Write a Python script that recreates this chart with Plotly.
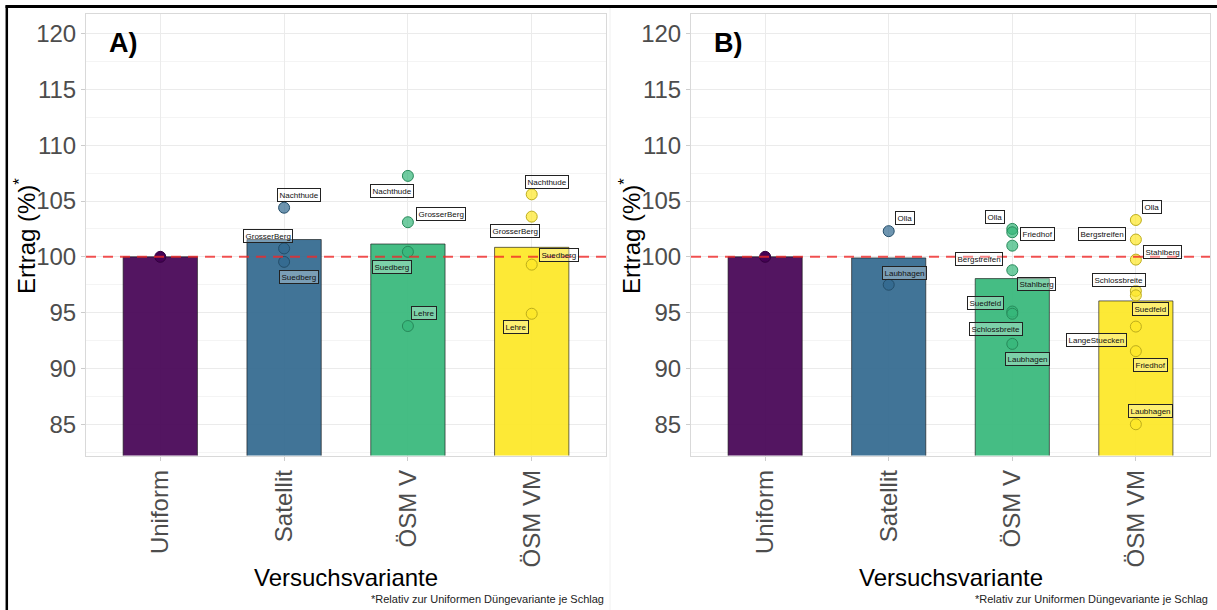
import plotly.graph_objects as go

# ---------------- data ----------------
categories = ["Uniform", "Satellit", "ÖSM V", "ÖSM VM"]
bar_colors = ["#440154", "#31688E", "#35B779", "#FDE725"]

bars_A = [100.0, 101.55, 101.15, 100.85]
bars_B = [100.0, 99.9, 98.05, 96.05]

# points per panel: category, field name, value
pts_A_cat = ["Uniform", "Satellit", "Satellit", "Satellit",
             "ÖSM V", "ÖSM V", "ÖSM V", "ÖSM V",
             "ÖSM VM", "ÖSM VM", "ÖSM VM", "ÖSM VM"]
pts_A_name = ["", "Nachthude", "GrosserBerg", "Suedberg",
              "Nachthude", "GrosserBerg", "Suedberg", "Lehre",
              "Nachthude", "GrosserBerg", "Suedberg", "Lehre"]
pts_A_val = [100.0, 104.4, 100.75, 99.55,
             107.25, 103.1, 100.45, 93.8,
             105.6, 103.6, 99.3, 94.9]

pts_B_cat = ["Uniform", "Satellit", "Satellit",
             "ÖSM V", "ÖSM V", "ÖSM V", "ÖSM V", "ÖSM V", "ÖSM V", "ÖSM V",
             "ÖSM VM", "ÖSM VM", "ÖSM VM", "ÖSM VM", "ÖSM VM", "ÖSM VM", "ÖSM VM", "ÖSM VM"]
pts_B_name = ["", "Olla", "Laubhagen",
              "Olla", "Friedhof", "Bergstreifen", "Stahlberg", "Suedfeld", "Schlossbreite", "Laubhagen",
              "Olla", "Bergstreifen", "Stahlberg", "Schlossbreite", "Suedfeld", "LangeStuecken", "Friedhof", "Laubhagen"]
pts_B_val = [100.0, 102.3, 97.5,
             102.5, 102.2, 101.0, 98.8, 95.1, 94.9, 92.2,
             103.3, 101.55, 99.75, 96.95, 96.55, 93.75, 91.55, 85.0]

# label offsets in pixels (dx right, dy down) -- styling only
off_A = [(0, 0), (15, -13), (-16, -12), (15, 15),
         (-16, 15), (33, -8), (-16, 15), (16, -13),
         (15, -12), (-17, 14), (27, -10), (-16, 13)]
off_B = [(0, 0), (16, -13), (16, -12),
         (-17, -12), (25, 2), (-33, 13), (24, 14), (-27, -9), (-16, 15), (15, 15),
         (16, -13), (-34, -6), (27, -8), (-17, -11), (15, 14), (-39, 13), (15, 14), (15, -13)]

panel_tags = ["A)", "B)"]
y_title = "Ertrag (%)<sup>*</sup>"
x_title = "Versuchsvariante"
footnote = "*Relativ zur Uniformen Düngevariante je Schlag"

# ---------------- layout helpers ----------------
W, H = 1217, 610
def px(x):
    return x / W
def py(y):
    return 1 - y / H

def hex_rgb(h):
    h = h.lstrip("#")
    return tuple(int(h[i:i + 2], 16) for i in (0, 2, 4))

def rgba(h, a):
    r, g, b = hex_rgb(h)
    return f"rgba({r},{g},{b},{a})"

def darker(h, f=0.7):
    r, g, b = hex_rgb(h)
    return f"rgb({int(r*f)},{int(g*f)},{int(b*f)})"

color_of = dict(zip(categories, bar_colors))

panels = [
    dict(bars=bars_A, cat=pts_A_cat, name=pts_A_name, val=pts_A_val, off=off_A,
         xa="x", ya="y", x0=86, x1=606),
    dict(bars=bars_B, cat=pts_B_cat, name=pts_B_name, val=pts_B_val, off=off_B,
         xa="x2", ya="y2", x0=691, x1=1210),
]
TOP, BOT = 13.5, 455.5
YR = [82.2, 121.8]

fig = go.Figure()
annotations = []
shapes = []
FONT = "Liberation Sans, Arial"

for i, p in enumerate(panels):
    fig.add_trace(go.Bar(
        x=categories, y=p["bars"], xaxis=p["xa"], yaxis=p["ya"], width=0.6,
        marker=dict(color=[rgba(c, 0.92) for c in bar_colors],
                    line=dict(color="rgba(20,20,20,0.8)", width=0.8)),
        showlegend=False, hoverinfo="skip"))
    fig.add_trace(go.Scatter(
        x=p["cat"], y=p["val"], xaxis=p["xa"], yaxis=p["ya"], mode="markers",
        marker=dict(size=11,
                    color=[color_of[c] if c == "Uniform" else rgba(color_of[c], 0.7) for c in p["cat"]],
                    line=dict(color=[darker(color_of[c], 0.75) for c in p["cat"]], width=1)),
        showlegend=False, hoverinfo="skip"))
    # reference line at 100
    shapes.append(dict(type="line", xref=f"{p['xa']} domain", yref=p["ya"],
                       x0=0, x1=1, y0=100, y1=100, layer="above",
                       line=dict(color="rgba(240,40,40,0.8)", width=2, dash="10px,7px")))
    # labels
    for c, n, v, (dx, dy) in zip(p["cat"], p["name"], p["val"], p["off"]):
        if not n:
            continue
        annotations.append(dict(
            x=c, y=v, xref=p["xa"], yref=p["ya"], text=n, showarrow=False,
            xshift=dx, yshift=-dy,
            font=dict(family=FONT, size=8, color="#111"),
            bgcolor="rgba(255,255,255,0.3)", bordercolor="#222", borderwidth=1, borderpad=1.5))
    # panel tag
    annotations.append(dict(
        x=px(p["x0"] + 21), y=py(43), xref="paper", yref="paper", xanchor="left", yanchor="middle",
        text=f"<b>{panel_tags[i]}</b>", showarrow=False,
        font=dict(family=FONT, size=27, color="black")))
    # axis titles
    annotations.append(dict(
        x=px(p["x0"] - 61), y=py(236), xref="paper", yref="paper", xanchor="center", yanchor="middle",
        text=y_title, textangle=-90, showarrow=False,
        font=dict(family=FONT, size=24, color="black")))
    annotations.append(dict(
        x=px((p["x0"] + p["x1"]) / 2), y=py(577), xref="paper", yref="paper",
        xanchor="center", yanchor="middle", text=x_title, showarrow=False,
        font=dict(family=FONT, size=24, color="black")))
    annotations.append(dict(
        x=px(p["x1"]), y=py(599), xref="paper", yref="paper",
        xanchor="right", yanchor="middle", text=footnote, showarrow=False,
        font=dict(family=FONT, size=11, color="#222")))

# outer frame lines (screenshot border) and faint panel divider
shapes.append(dict(type="line", xref="paper", yref="paper", x0=px(6.8), x1=px(6.8), y0=py(5.5), y1=py(612),
                   line=dict(color="black", width=2.5), layer="above"))
shapes.append(dict(type="line", xref="paper", yref="paper", x0=px(5.5), x1=px(1220), y0=py(6.6), y1=py(6.6),
                   line=dict(color="black", width=3), layer="above"))
shapes.append(dict(type="line", xref="paper", yref="paper", x0=px(610), x1=px(610), y0=py(8), y1=py(610),
                   line=dict(color="#f0f0f0", width=1), layer="below"))

def xaxis(x0, x1, anchor):
    return dict(domain=[px(x0), px(x1)], anchor=anchor, type="category",
                categoryorder="array", categoryarray=categories, range=[-0.6, 3.6],
                showgrid=True, gridcolor="#ebebeb", gridwidth=1,
                showline=True, linecolor="#d9d9d9", linewidth=1, mirror=True,
                ticks="outside", ticklen=4, tickcolor="#cccccc", tickangle=-90,
                ticklabelstandoff=0,
                tickfont=dict(family=FONT, size=24, color="#4d4d4d"),
                zeroline=False, fixedrange=True)

def yaxis(anchor):
    return dict(domain=[py(BOT), py(TOP)], anchor=anchor, range=YR,
                tickmode="array", tickvals=[85, 90, 95, 100, 105, 110, 115, 120],
                showgrid=True, gridcolor="#ebebeb", gridwidth=1,
                minor=dict(tickmode="array", tickvals=[82.5, 87.5, 92.5, 97.5, 102.5, 107.5, 112.5, 117.5],
                           showgrid=True, gridcolor="#f4f4f4", gridwidth=1, ticks=""),
                showline=True, linecolor="#d9d9d9", linewidth=1, mirror=True,
                ticks="outside", ticklen=4, tickcolor="#cccccc",
                tickfont=dict(family=FONT, size=24, color="#4d4d4d"),
                zeroline=False, fixedrange=True)

fig.update_layout(
    width=W, height=H, margin=dict(l=0, r=0, t=0, b=0),
    paper_bgcolor="white", plot_bgcolor="white", bargap=0,
    xaxis=xaxis(86, 606, "y"), yaxis=yaxis("x"),
    xaxis2=xaxis(691, 1210, "y2"), yaxis2=yaxis("x2"),
    annotations=annotations, shapes=shapes,
    font=dict(family=FONT),
)

fig.write_html(
    "out.html",
    config={"displayModeBar": False, "staticPlot": True},
    post_script="document.body.style.margin='0';document.body.style.padding='0';"
                "document.body.style.overflow='hidden';",
)
